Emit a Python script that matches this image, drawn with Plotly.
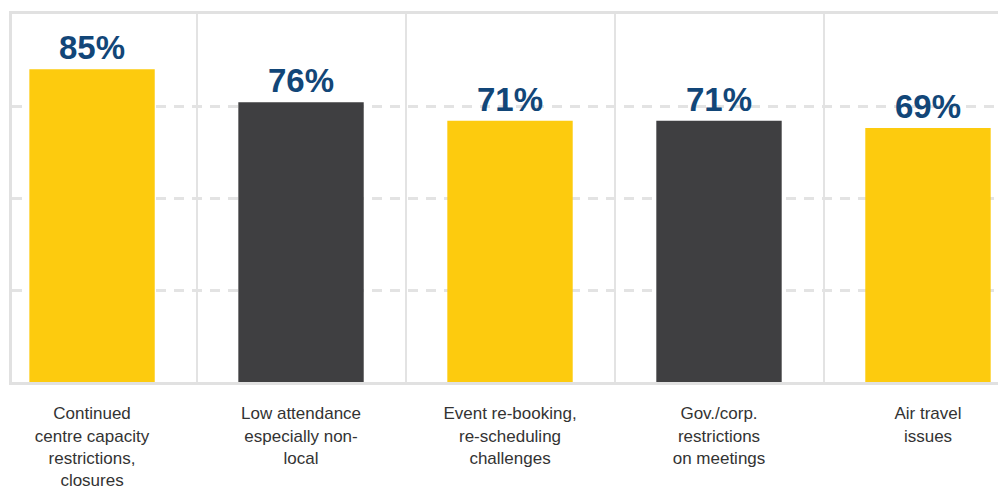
import plotly.graph_objects as go

categories = [
    "Continued<br>centre capacity<br>restrictions,<br>closures",
    "Low attendance<br>especially non-<br>local",
    "Event re-booking,<br>re-scheduling<br>challenges",
    "Gov./corp.<br>restrictions<br>on meetings",
    "Air travel<br>issues",
]
values = [85, 76, 71, 71, 69]
bar_colors = ["#FDCB0E", "#3F3F41", "#FDCB0E", "#3F3F41", "#FDCB0E"]
value_labels = [f"{v}%" for v in values]

fig = go.Figure()
fig.add_trace(go.Bar(
    x=categories, y=values, marker=dict(color=bar_colors, line=dict(width=0)),
    width=0.6, hoverinfo="skip",
))

for c, v, t in zip(categories, values, value_labels):
    fig.add_annotation(
        x=c, y=v, text=f"<b>{t}</b>", showarrow=False, yanchor="bottom",
        yshift=1, font=dict(family="Liberation Sans, Arial, sans-serif", size=33, color="#124678"),
    )

fig.update_layout(
    width=998, height=489,
    margin=dict(l=12, r=0, t=14, b=107),
    paper_bgcolor="white", plot_bgcolor="white",
    showlegend=False,
    xaxis=dict(
        type="category", range=[-0.383, 4.335], automargin=False,
        showgrid=True, tickson="boundaries", gridcolor="#E3E3E3", gridwidth=2,
        showline=True, linecolor="#E1E1E1", linewidth=3, mirror=True,
        ticks="", ticklabelstandoff=14,
        tickfont=dict(family="Liberation Sans, Arial, sans-serif", size=17, color="#333333"),
        fixedrange=True,
    ),
    yaxis=dict(
        range=[0, 100], tickvals=[25, 50, 75], showticklabels=False, automargin=False,
        showgrid=True, gridcolor="#E3E3E3", gridwidth=2.5, griddash="10px,8px",
        showline=True, linecolor="#E1E1E1", linewidth=3,
        zeroline=False, ticks="", fixedrange=True,
    ),
)

fig.write_html("out.html")
